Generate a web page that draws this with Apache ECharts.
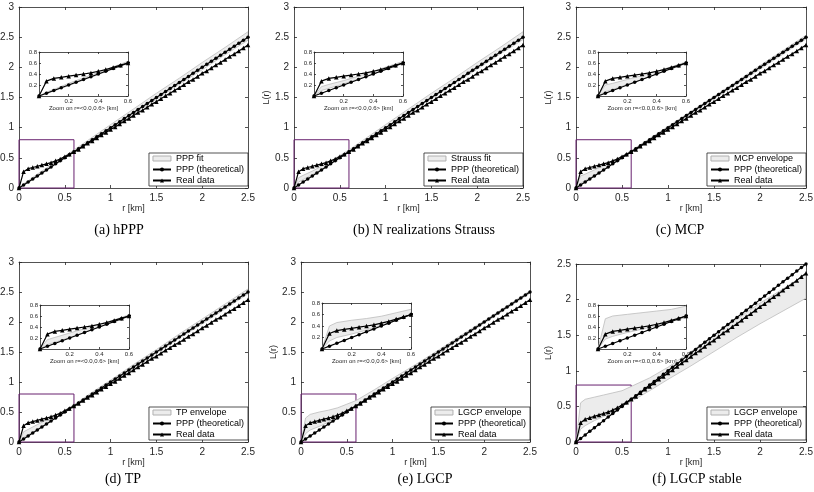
<!DOCTYPE html>
<html>
<head>
<meta charset="utf-8">
<script src="https://cdn.jsdelivr.net/npm/echarts@6/dist/echarts.min.js"></script>
<style>
html, body { margin: 0; padding: 0; background: #fff; }
#main { width: 814px; height: 492px; }
</style>
</head>
<body>
<div id="main"></div>
<script>
// r [km] grid of the measured curves
var r = [0, 0.05, 0.1, 0.15, 0.2, 0.25, 0.3, 0.35, 0.4, 0.45, 0.5, 0.55, 0.6, 0.65, 0.7, 0.75, 0.8, 0.85, 0.9, 0.95,
    1.0, 1.05, 1.1, 1.15, 1.2, 1.25, 1.3, 1.35, 1.4, 1.45, 1.5, 1.55, 1.6, 1.65, 1.7, 1.75, 1.8, 1.85, 1.9, 1.95,
    2.0, 2.05, 2.1, 2.15, 2.2, 2.25, 2.3, 2.35, 2.4, 2.45, 2.5];
var pppTheoretical = [0, 0.05, 0.1, 0.15, 0.2, 0.25, 0.3, 0.35, 0.4, 0.45, 0.5, 0.55, 0.6, 0.65, 0.7, 0.75, 0.8, 0.85, 0.9, 0.95,
    1.0, 1.05, 1.1, 1.15, 1.2, 1.25, 1.3, 1.35, 1.4, 1.45, 1.5, 1.55, 1.6, 1.65, 1.7, 1.75, 1.8, 1.85, 1.9, 1.95,
    2.0, 2.05, 2.1, 2.15, 2.2, 2.25, 2.3, 2.35, 2.4, 2.45, 2.5];
var realData = [0, 0.27, 0.32, 0.34, 0.36, 0.38, 0.40, 0.42, 0.45, 0.48, 0.52, 0.56, 0.60, 0.64, 0.69, 0.74, 0.78, 0.83, 0.88, 0.92,
    0.97, 1.01, 1.06, 1.11, 1.15, 1.20, 1.25, 1.29, 1.34, 1.39, 1.43, 1.48, 1.53, 1.57, 1.62, 1.66, 1.71, 1.76, 1.80, 1.85,
    1.90, 1.94, 1.99, 2.04, 2.08, 2.13, 2.18, 2.22, 2.27, 2.32, 2.37];

// envelopes (lower / upper)
var rEnv = [0, 0.05, 0.1, 0.2, 0.3, 0.4, 0.5, 0.6, 0.8, 1.0, 1.25, 1.5, 1.75, 2.0, 2.25, 2.5];
var hpppLo = [0, 0.04, 0.09, 0.19, 0.29, 0.39, 0.49, 0.59, 0.79, 0.98, 1.23, 1.47, 1.72, 1.96, 2.21, 2.45];
var hpppHi = [0, 0.07, 0.12, 0.23, 0.33, 0.43, 0.53, 0.63, 0.84, 1.05, 1.31, 1.57, 1.82, 2.08, 2.33, 2.59];
var straussLo = [0, 0.10, 0.14, 0.22, 0.31, 0.40, 0.49, 0.59, 0.79, 0.99, 1.24, 1.48, 1.73, 1.97, 2.22, 2.46];
var straussHi = [0, 0.17, 0.21, 0.28, 0.36, 0.45, 0.54, 0.63, 0.84, 1.05, 1.31, 1.57, 1.82, 2.08, 2.33, 2.59];
var mcpLo = [0, 0.08, 0.12, 0.21, 0.30, 0.40, 0.49, 0.59, 0.79, 0.98, 1.23, 1.48, 1.72, 1.97, 2.22, 2.47];
var mcpHi = [0, 0.20, 0.23, 0.30, 0.37, 0.45, 0.53, 0.62, 0.82, 1.02, 1.27, 1.52, 1.77, 2.03, 2.28, 2.53];
var tpLo = [0, 0.08, 0.12, 0.21, 0.30, 0.40, 0.49, 0.59, 0.79, 0.98, 1.23, 1.48, 1.73, 1.97, 2.22, 2.47];
var tpHi = [0, 0.17, 0.21, 0.29, 0.37, 0.45, 0.53, 0.62, 0.83, 1.03, 1.29, 1.54, 1.80, 2.05, 2.30, 2.55];
var lgcpLo = [0, 0.14, 0.20, 0.26, 0.33, 0.41, 0.50, 0.59, 0.78, 0.97, 1.22, 1.47, 1.73, 1.98, 2.23, 2.48];
var lgcpHi = [0, 0.40, 0.46, 0.50, 0.53, 0.57, 0.63, 0.69, 0.87, 1.06, 1.29, 1.53, 1.78, 2.02, 2.27, 2.52];
var lgcpStableLo = [0, 0.18, 0.23, 0.30, 0.36, 0.43, 0.50, 0.57, 0.72, 0.88, 1.07, 1.27, 1.47, 1.66, 1.84, 2.02];
var lgcpStableHi = [0, 0.55, 0.60, 0.63, 0.66, 0.69, 0.72, 0.78, 0.90, 1.05, 1.27, 1.50, 1.73, 1.95, 2.15, 2.36];

var envNames = ['PPP fit', 'Strauss fit', 'MCP envelope', 'TP envelope', 'LGCP envelope', 'LGCP envelope'];
var envLows = [hpppLo, straussLo, mcpLo, tpLo, lgcpLo, lgcpStableLo];
var envHighs = [hpppHi, straussHi, mcpHi, tpHi, lgcpHi, lgcpStableHi];
var captions = ['(a) hPPP', '(b) N realizations Strauss', '(c) MCP', '(d) TP', '(e) LGCP', '(f) LGCP stable'];
var yMaxes = [3, 3, 3, 3, 3, 2.5];
var zoomBox = [0, 0, 0.6, 0.8];

// layout in pixels: main plot box, inset box, legend right/top, caption centre
var panels = [
    {main: [19, 7, 248, 188], inset: [39, 52, 128, 96], legend: [248, 153], cap: [119, 230]},
    {main: [294, 7, 523, 188], inset: [314, 52, 403, 96], legend: [523, 153], cap: [424, 230]},
    {main: [576, 7, 806, 188], inset: [598, 52, 686, 96], legend: [806, 153], cap: [680, 230]},
    {main: [19, 262, 248, 442], inset: [40, 305, 129, 349], legend: [248, 407], cap: [123, 479]},
    {main: [301, 262, 530, 442], inset: [322, 303, 411, 349], legend: [530, 407], cap: [425, 479]},
    {main: [576, 264, 806, 442], inset: [598, 305, 686, 349], legend: [806, 407], cap: [697, 479]}
];

var W = 814;
var AXC = '#262626';
var SANS = 'Liberation Sans';

function zip(xs, ys) {
    return xs.map(function (x, i) { return [x, ys[i]]; });
}

function axisBase(grid, min, max, step, small, showLabel, pos) {
    return {
        type: 'value', gridIndex: grid, min: min, max: max, interval: step, position: pos,
        axisLine: {show: true, onZero: false, lineStyle: {color: AXC, width: 0.8}},
        axisTick: {show: true, inside: true, length: small ? 2 : 3, lineStyle: {color: AXC, width: 0.8}},
        axisLabel: {
            show: showLabel, color: AXC, fontFamily: SANS, fontSize: small ? 6 : 10,
            margin: small ? 2 : 5, showMinLabel: !small
        },
        splitLine: {show: false}
    };
}

// filled band between lo and hi, drawn through the axis scales
function bandRender(lo, hi) {
    return function (params, api) {
        if (params.dataIndex !== 0) return null;
        var pts = [];
        for (var i = 0; i < rEnv.length; i++) pts.push(api.coord([rEnv[i], hi[i]]));
        for (var j = rEnv.length - 1; j >= 0; j--) pts.push(api.coord([rEnv[j], lo[j]]));
        var cs = params.coordSys;
        return {
            type: 'group',
            children: [{
                type: 'polygon',
                shape: {points: pts},
                style: {fill: '#ececec', stroke: '#bdbdbd', lineWidth: 0.8}
            }],
            clipPath: {type: 'rect', shape: {x: cs.x, y: cs.y, width: cs.width, height: cs.height}}
        };
    };
}

var grids = [], xAxes = [], yAxes = [], series = [], legends = [], graphics = [];

panels.forEach(function (p, k) {
    var gMain = grids.length;
    grids.push({
        left: p.main[0], top: p.main[1], width: p.main[2] - p.main[0], height: p.main[3] - p.main[1],
        outerBoundsMode: 'none', containLabel: false
    });
    var gIn = grids.length;
    grids.push({
        left: p.inset[0], top: p.inset[1], width: p.inset[2] - p.inset[0], height: p.inset[3] - p.inset[1],
        outerBoundsMode: 'none', containLabel: false,
        show: true, backgroundColor: '#fff', borderWidth: 0
    });

    var xm = xAxes.length;
    var ax = axisBase(gMain, 0, 2.5, 0.5, false, true, 'bottom');
    ax.name = 'r [km]';
    ax.nameLocation = 'middle';
    ax.nameGap = 13;
    ax.nameTextStyle = {color: AXC, fontFamily: SANS, fontSize: 9, verticalAlign: 'top'};
    xAxes.push(ax);
    xAxes.push(axisBase(gMain, 0, 2.5, 0.5, false, false, 'top'));
    var xi = xAxes.length;
    var axi = axisBase(gIn, 0, 0.6, 0.2, true, true, 'bottom');
    axi.name = 'Zoom on r=<0.0,0.6> [km]';
    axi.nameLocation = 'middle';
    axi.nameGap = 9;
    axi.nameTextStyle = {color: AXC, fontFamily: SANS, fontSize: 6, verticalAlign: 'top'};
    xAxes.push(axi);
    xAxes.push(axisBase(gIn, 0, 0.6, 0.2, true, false, 'top'));

    var ym = yAxes.length;
    var ay = axisBase(gMain, 0, yMaxes[k], 0.5, false, true, 'left');
    ay.name = 'L(r)';
    ay.nameLocation = 'middle';
    ay.nameGap = 11;
    ay.nameRotate = 90;
    ay.nameTextStyle = {color: AXC, fontFamily: SANS, fontSize: 9};
    yAxes.push(ay);
    yAxes.push(axisBase(gMain, 0, yMaxes[k], 0.5, false, false, 'right'));
    var yi = yAxes.length;
    yAxes.push(axisBase(gIn, 0, 0.8, 0.2, true, true, 'left'));
    yAxes.push(axisBase(gIn, 0, 0.8, 0.2, true, false, 'right'));

    var lo = envLows[k], hi = envHighs[k];

    [[xm, ym, true], [xi, yi, false]].forEach(function (a) {
        var isMain = a[2];
        series.push({
            type: 'custom', name: envNames[k], xAxisIndex: a[0], yAxisIndex: a[1],
            data: zip(rEnv, lo), renderItem: bandRender(lo, hi), silent: true, z: 1,
            itemStyle: {color: '#ececec'}
        });
        var ppp = {
            type: 'line', name: 'PPP (theoretical)', xAxisIndex: a[0], yAxisIndex: a[1],
            data: zip(r, pppTheoretical), symbol: 'circle', symbolSize: 3.5, silent: true, z: 3,
            lineStyle: {color: '#000', width: 1.2}, itemStyle: {color: '#000'}
        };
        if (isMain) {
            ppp.markArea = {
                silent: true,
                itemStyle: {color: 'rgba(0,0,0,0)', borderColor: '#68206f', borderWidth: 1},
                data: [[{coord: [zoomBox[0], zoomBox[1]]}, {coord: [zoomBox[2], zoomBox[3]]}]]
            };
        }
        series.push(ppp);
        series.push({
            type: 'line', name: 'Real data', xAxisIndex: a[0], yAxisIndex: a[1],
            data: zip(r, realData), symbol: 'triangle', symbolSize: 4.5, silent: true, z: 3,
            lineStyle: {color: '#000', width: 1.2}, itemStyle: {color: '#000'}
        });
    });

    legends.push({
        right: W - p.legend[0], top: p.legend[1], orient: 'vertical', align: 'left',
        backgroundColor: '#fff', borderColor: AXC, borderWidth: 0.8, borderRadius: 0,
        padding: [1, 4, 1, 3], itemGap: 2, itemWidth: 18, itemHeight: 5,
        textStyle: {color: '#000', fontFamily: SANS, fontSize: 9, lineHeight: 9},
        selectedMode: false,
        data: [
            {name: envNames[k], icon: 'rect', itemStyle: {color: '#ececec', borderColor: '#b0b0b0', borderWidth: 1}},
            {name: 'PPP (theoretical)'},
            {name: 'Real data'}
        ]
    });

    graphics.push({
        type: 'text', x: p.cap[0], y: p.cap[1],
        style: {text: captions[k], fill: '#000', font: '14px "Liberation Serif"', align: 'center', verticalAlign: 'middle'}
    });
});

var dom = document.getElementById('main');
var myChart = echarts.init(dom, null, {renderer: 'canvas'});
var option = {
    animation: false,
    backgroundColor: '#fff',
    grid: grids,
    xAxis: xAxes,
    yAxis: yAxes,
    legend: legends,
    graphic: graphics,
    series: series
};
myChart.setOption(option);
</script>
</body>
</html>
